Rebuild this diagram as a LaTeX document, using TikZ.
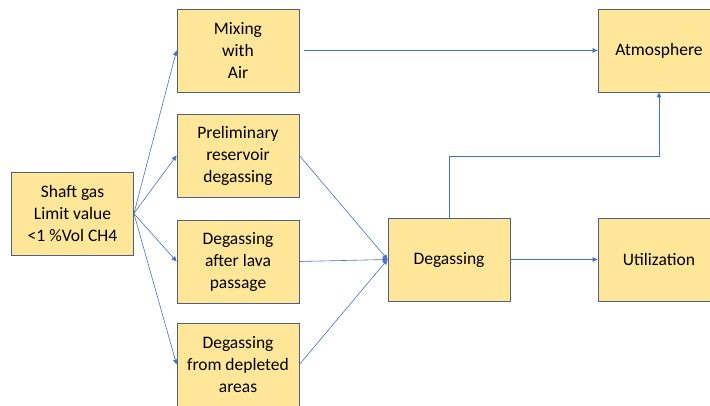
\documentclass[tikz,border=0pt]{standalone}
\usepackage{fontspec}
\setmainfont{Carlito}
\usetikzlibrary{arrows.meta}
\definecolor{BoxClr}{RGB}{255,230,153}
\definecolor{EdgeClr}{RGB}{80,96,128}
\definecolor{BlueClr}{RGB}{68,114,196}

\begin{document}
\begin{tikzpicture}[x=1pt,y=-1pt,
  box/.style={draw=EdgeClr,fill=BoxClr,line width=0.8pt,minimum width=122pt,
    minimum height=83pt,inner sep=0pt,align=center,font=\fontsize{17.5}{22}\selectfont},
  flow/.style={draw=BlueClr,line width=0.6pt,-{Triangle[length=5pt,width=4.5pt]}}]
\useasboundingbox (0,0) rectangle (710,406);

\node[box] (shaft) at (72.5,213.5) {Shaft gas\\Limit value\\<1 \%Vol CH4};

\node[box] (mix) at (238,50.5) {Mixing\\with\\Air};
\node[box] (prelim) at (238,155.5) {Preliminary\\reservoir\\degassing};
\node[box] (lava) at (238,261.5) {Degassing\\after lava\\passage};
\node[box] (deplet) at (238,364.5) {Degassing\\from depleted\\areas};

\node[box] (degas) at (449,259.5) {Degassing};
\node[box] (atmos) at (659,50.5) {Atmosphere};
\node[box] (util) at (659,259.5) {Utilization};

\coordinate (bend) at (449,156);

\foreach \n in {mix,prelim,lava,deplet}
  \draw[flow] (shaft.east) -- (\n.west);

\foreach \n in {prelim,lava,deplet}
  \draw[flow] (\n.east) -- (degas.west);

\draw[flow,shorten <=5pt] (mix.east) -- (atmos.west);
\draw[flow] (degas.north) -- (bend) -| (atmos.south);
\draw[flow] (degas.east) -- (util.west);

\end{tikzpicture}
\end{document}
